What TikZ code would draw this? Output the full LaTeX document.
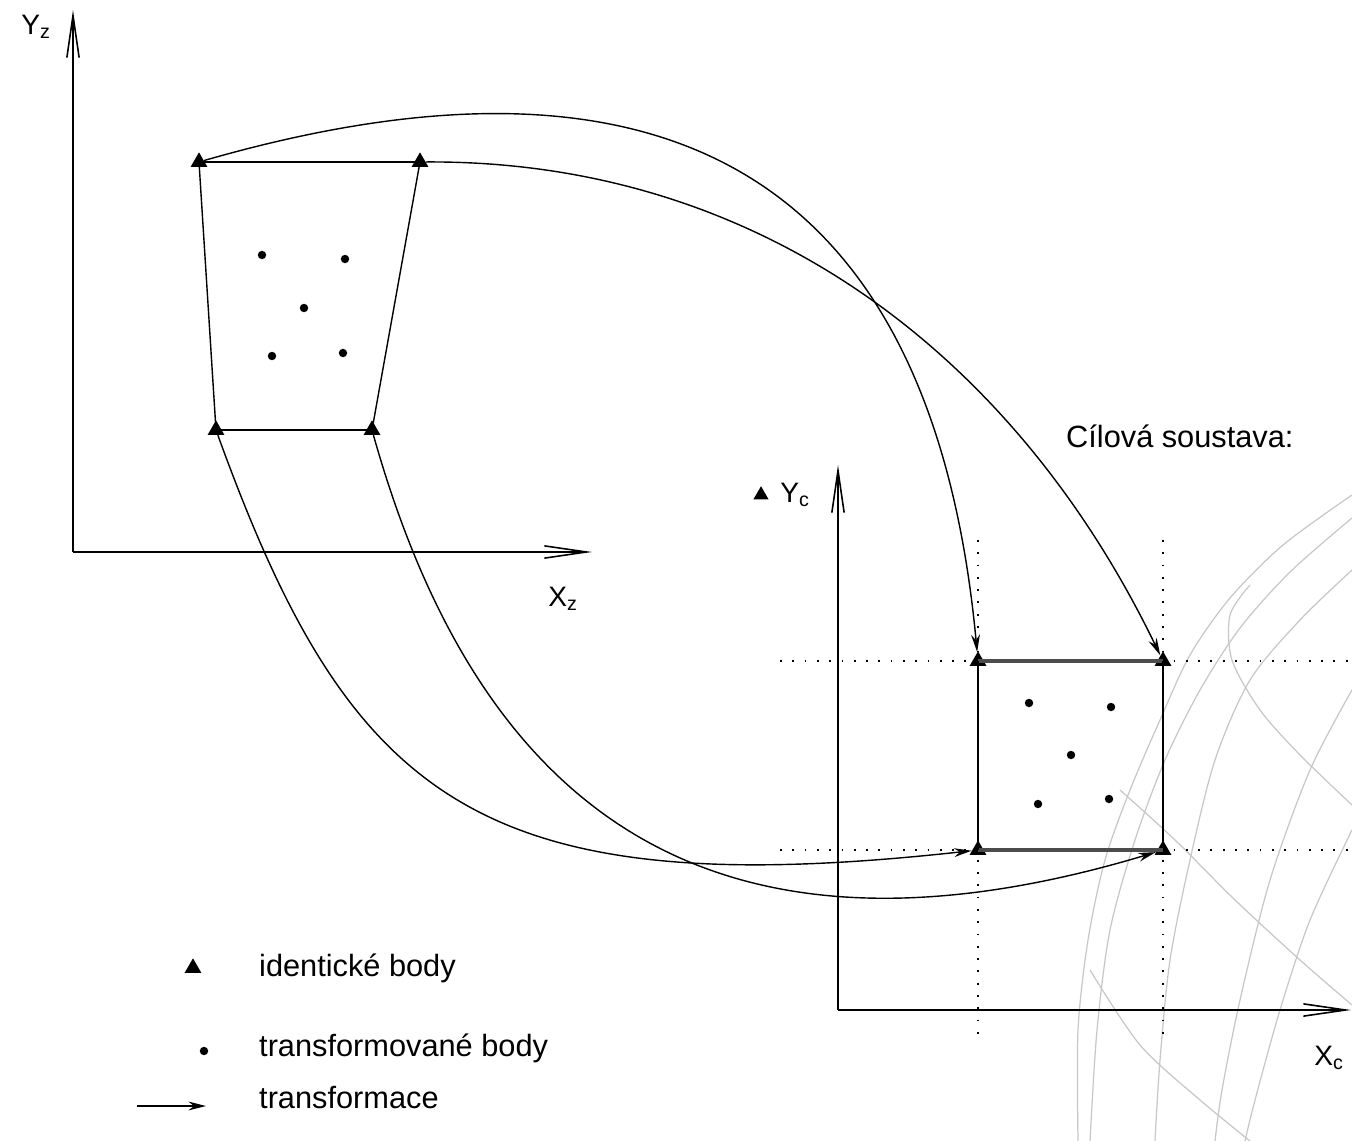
\documentclass[tikz,border=0pt]{standalone}
\usepackage{fontspec}
\setmainfont{Liberation Sans}
\usetikzlibrary{arrows.meta, shapes.geometric}

\begin{document}
\begin{tikzpicture}[
    x=0.02cm, y=-0.02cm,
    every node/.style={font=\fontsize{17.5}{20}\selectfont},
    lab/.style={font=\fontsize{16}{18}\selectfont, inner sep=0pt},
    idpt/.style={regular polygon, regular polygon sides=3, fill=black,
                 minimum size=11pt, inner sep=0pt},
    tfpt/.style={circle, fill=black, minimum size=4.8pt, inner sep=0pt},
    trans/.style={line width=0.8pt, -{Stealth[length=10pt, width=5pt]}},
    axis/.style={line width=0.9pt, -{Straight Barb[length=24pt, width=7pt]}},
    guide/.style={line width=1pt, dash pattern=on 1pt off 6pt},
    globe/.style={black!22, line width=0.7pt},
]
\useasboundingbox (0,0) rectangle (1352,1141);

% ================================================ globe in the corner
\begin{scope}
\clip (1040,470) rectangle (1352,1141);
\draw[globe] plot[smooth] coordinates {(1352,495) (1283,545) (1230,598) (1190,655) (1160,720) (1130,790) (1105,860) (1088,940) (1078,1030) (1078,1141)};
\draw[globe] plot[smooth] coordinates {(1352,518) (1290,572) (1240,628) (1200,690) (1165,760) (1135,840) (1110,930) (1097,1030) (1090,1141)};
\draw[globe] plot[smooth] coordinates {(1250,585) (1230,615) (1232,660) (1260,710) (1300,755) (1352,805)};
\draw[globe] plot[smooth] coordinates {(1352,570) (1300,620) (1250,680) (1215,760) (1190,860) (1170,960) (1160,1060) (1155,1141)};
\draw[globe] plot[smooth] coordinates {(1352,690) (1310,770) (1270,880) (1240,1000) (1222,1090) (1215,1141)};
\draw[globe] plot[smooth] coordinates {(1120,790) (1175,840) (1235,900) (1300,960) (1352,1005)};
\draw[globe] plot[smooth] coordinates {(1090,970) (1140,1045) (1200,1100) (1250,1141)};
\draw[globe] plot[smooth] coordinates {(1352,830) (1310,920) (1280,1010) (1255,1100) (1245,1141)};
\end{scope}

% ================================================ source system
\coordinate (zO) at (73,552);
\coordinate (zY) at (73,10);
\coordinate (zX) at (592,552);
\draw[axis] (zO) -- (zY);
\draw[axis] (zO) -- (zX);
\node[lab] (zYlab) at (36,27) {Y\textsubscript{z}};
\node[lab] (zXlab) at (563,599) {X\textsubscript{z}};

\node[idpt] (zTL) at (199,162) {};
\node[idpt] (zTR) at (420,162) {};
\node[idpt] (zBL) at (216,430) {};
\node[idpt] (zBR) at (372,430) {};
\draw[line width=1.1pt] (zTL.center) -- (zTR.center);
\draw[line width=0.8pt] (zTR.center) -- (zBR.center);
\draw[line width=1.1pt] (zBR.center) -- (zBL.center);
\draw[line width=0.8pt] (zBL.center) -- (zTL.center);
\foreach \n/\x/\y in {1/262/255, 2/345/259, 3/304/308, 4/272/356, 5/343/353}{
    \node[tfpt] (zp\n) at (\x,\y) {};
}

% ================================================ target system
\node[anchor=west] (title) at (1060,436) {Cílová soustava:};

\draw[guide] (780,661) -- (1352,661);
\draw[guide] (780,850) -- (1352,850);
\draw[guide] (978,540) -- (978,1040);
\draw[guide] (1163,540) -- (1163,1040);

\coordinate (cO) at (838,1010);
\coordinate (cY) at (838,465);
\coordinate (cX) at (1351,1010);
\draw[axis] (cO) -- (cY);
\draw[axis] (cO) -- (cX);
\node[idpt, minimum size=10pt] (cYmark) at (761,495) {};
\node[lab] (cYlab) at (795,495) {Y\textsubscript{c}};
\node[lab] (cXlab) at (1329,1058) {X\textsubscript{c}};

\node[idpt] (cTL) at (978,661) {};
\node[idpt] (cTR) at (1163,661) {};
\node[idpt] (cBL) at (978,850) {};
\node[idpt] (cBR) at (1163,850) {};
\draw[black!70, line width=1.8pt] (cTL.center) -- (cTR.center);
\draw[line width=0.8pt] (cTR.center) -- (cBR.center);
\draw[black!70, line width=1.8pt] (cBR.center) -- (cBL.center);
\draw[line width=0.8pt] (cBL.center) -- (cTL.center);
\foreach \n/\x/\y in {1/1029/703, 2/1111/707, 3/1071/755, 4/1038/804, 5/1109/799}{
    \node[tfpt] (cp\n) at (\x,\y) {};
}

% ================================================ transformations
\draw[trans] (zTL) .. controls (640,35) and (930,150) .. (cTL);
\draw[trans] (zTR) .. controls (760,160) and (1015,355) .. (cTR);
\draw[trans] (zBL) .. controls (350,800) and (478,905) .. (cBL);
\draw[trans] (zBR) .. controls (480,814) and (713,985) .. (cBR);

% ================================================ legend
\node[idpt] (lgTri) at (193,968) {};
\node[anchor=west] (lgTriText) at (253,968) {identické body};
\node[tfpt] (lgDot) at (204,1051) {};
\node[anchor=west] (lgDotText) at (253,1048) {transformované body};
\coordinate (lgA) at (137,1106);
\coordinate (lgB) at (206,1106);
\draw[trans] (lgA) -- (lgB);
\node[anchor=west] (lgArrText) at (253,1098) {transformace};

\end{tikzpicture}
\end{document}
